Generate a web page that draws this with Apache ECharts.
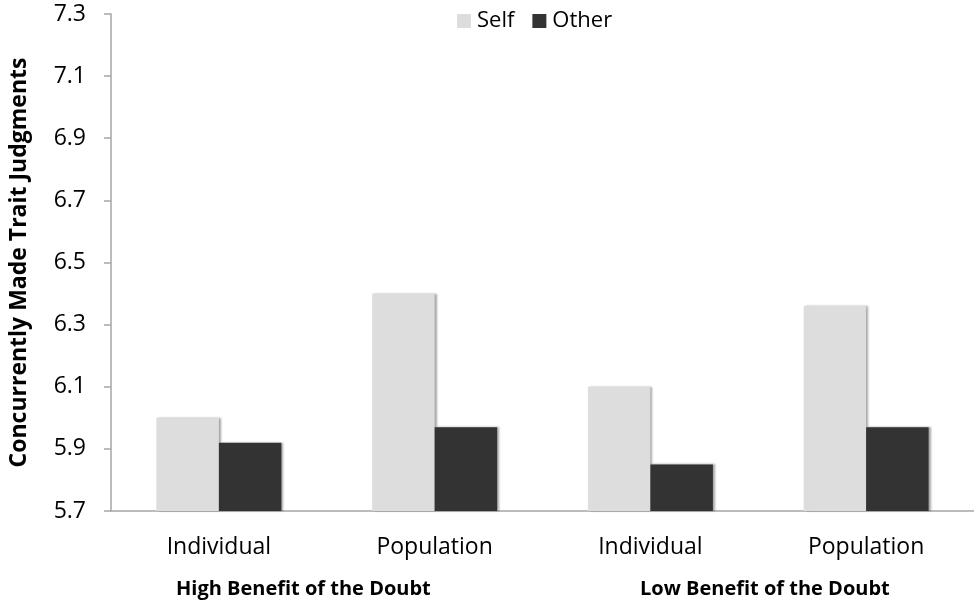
<!DOCTYPE html>
<html>
<head>
<meta charset="utf-8">
<script src="https://cdn.jsdelivr.net/npm/echarts@6/dist/echarts.min.js"></script>
<style>
  html, body { margin: 0; padding: 0; background: #fff; }
  #chart { width: 974px; height: 612px; }
</style>
</head>
<body>
<div id="chart"></div>
<script>
// Trait judgment means by condition
const categories = ['Individual', 'Population', 'Individual', 'Population'];
const selfValues = [6.00, 6.40, 6.10, 6.36];
const otherValues = [5.92, 5.97, 5.85, 5.97];
const groupLabels = ['High Benefit of the Doubt', 'Low Benefit of the Doubt'];
const yTicks = { min: 5.7, max: 7.3, interval: 0.2 };

const FONT = '"Open Sans", sans-serif';
const chart = echarts.init(document.getElementById('chart'));

const barShadow = {
  shadowColor: 'rgba(0,0,0,0.35)',
  shadowBlur: 2,
  shadowOffsetX: 2,
  shadowOffsetY: 0
};

chart.setOption({
  animation: false,
  textStyle: { fontFamily: FONT },
  legend: {
    top: 5,
    left: 452,
    itemWidth: 14,
    itemHeight: 14,
    itemGap: 18,
    icon: 'rect',
    textStyle: { fontFamily: FONT, fontSize: 22, color: '#000', padding: [0, 0, 0, 1] },
    data: ['Self', 'Other']
  },
  grid: { left: 109, right: -13, top: 14, bottom: 101 },
  xAxis: {
    type: 'category',
    data: categories,
    axisLine: { lineStyle: { color: '#a6a6a6', width: 1.5 } },
    axisTick: { length: 8, lineStyle: { color: '#a6a6a6', width: 1.5 } },
    axisLabel: { fontFamily: FONT, fontSize: 23, color: '#000', margin: 25 }
  },
  yAxis: {
    type: 'value',
    min: yTicks.min,
    max: yTicks.max,
    interval: yTicks.interval,
    name: 'Concurrently Made Trait Judgments',
    nameLocation: 'middle',
    nameGap: 80,
    nameTextStyle: { fontFamily: FONT, fontSize: 23, fontWeight: 'bold', color: '#000' },
    axisLine: { show: true, lineStyle: { color: '#a6a6a6', width: 1.5 } },
    axisTick: { show: true, inside: false, length: 7, lineStyle: { color: '#a6a6a6', width: 1.5 } },
    splitLine: { show: false },
    axisLabel: {
      fontFamily: FONT, fontSize: 23, color: '#000', margin: 25,
      formatter: v => v.toFixed(1)
    }
  },
  series: [
    {
      name: 'Self',
      type: 'bar',
      data: selfValues,
      barWidth: 62.5,
      barGap: '0%',
      itemStyle: Object.assign({ color: '#dddddd' }, barShadow)
    },
    {
      name: 'Other',
      type: 'bar',
      data: otherValues,
      barWidth: 62.5,
      barGap: '0%',
      itemStyle: Object.assign({ color: '#333333' }, barShadow)
    }
  ],
  graphic: [
    {
      type: 'text', left: 176, top: 579,
      style: { text: groupLabels[0], font: 'bold 20px ' + FONT, fill: '#000' }
    },
    {
      type: 'text', left: 640, top: 579,
      style: { text: groupLabels[1], font: 'bold 20px ' + FONT, fill: '#000' }
    }
  ]
});
</script>
</body>
</html>
